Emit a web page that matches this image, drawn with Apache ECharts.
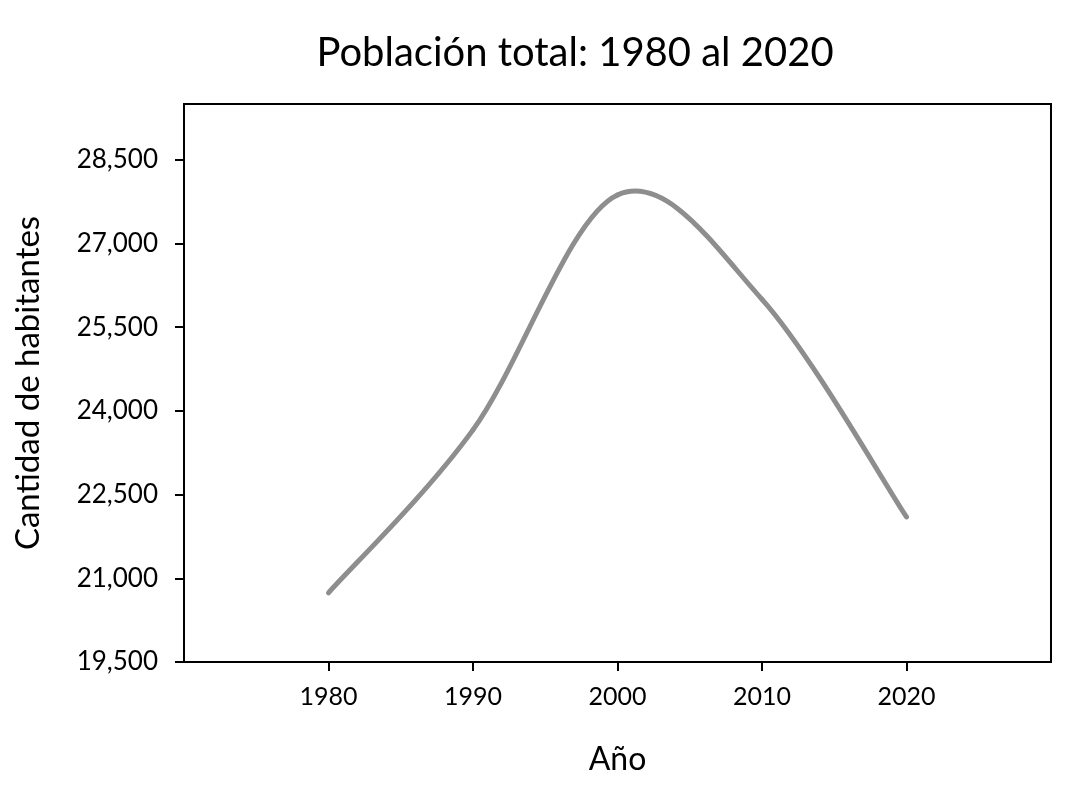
<!DOCTYPE html>
<html>
<head>
<meta charset="utf-8">
<script src="https://cdn.jsdelivr.net/npm/echarts@6/dist/echarts.min.js"></script>
<style>html,body{margin:0;padding:0;background:#fff;}#c{width:1089px;height:791px;}</style>
</head>
<body>
<div id="c"></div>
<script>
const years = [1980, 1990, 2000, 2010, 2020];
const population = [20740, 23660, 27870, 26000, 22100];
const xTicks = [1980, 1990, 2000, 2010, 2020];
const yTicks = [19500, 21000, 22500, 24000, 25500, 27000, 28500];
const titleText = 'Población total: 1980 al 2020';
const xName = 'Año';
const yName = 'Cantidad de habitantes';

const font = 'Lato, "Open Sans", sans-serif';
const lineColor = '#8e8e8e';

// Smooth curve (Catmull-Rom style, like spreadsheet smoothing) through the data points,
// positioned through the chart's own axes via api.coord.
function renderCurve(params, api) {
  if (params.dataIndex !== 0) return null;
  const pts = years.map((y, i) => api.coord([y, population[i]]));
  const n = pts.length;
  const children = [];
  for (let i = 0; i < n - 1; i++) {
    const p0 = pts[Math.max(i - 1, 0)];
    const p1 = pts[i];
    const p2 = pts[i + 1];
    const p3 = pts[Math.min(i + 2, n - 1)];
    children.push({
      type: 'bezierCurve',
      shape: {
        x1: p1[0], y1: p1[1],
        cpx1: p1[0] + (p2[0] - p0[0]) / 6, cpy1: p1[1] + (p2[1] - p0[1]) / 6,
        cpx2: p2[0] - (p3[0] - p1[0]) / 6, cpy2: p2[1] - (p3[1] - p1[1]) / 6,
        x2: p2[0], y2: p2[1]
      },
      style: { fill: null, stroke: lineColor, lineWidth: 5, lineCap: 'round', lineJoin: 'round' }
    });
  }
  return { type: 'group', children };
}

const chart = echarts.init(document.getElementById('c'));
chart.setOption({
  animation: false,
  backgroundColor: '#fff',
  title: {
    text: titleText, left: 570, top: 28, textAlign: 'center',
    textStyle: { fontFamily: font, fontSize: 40, fontWeight: 'normal', color: '#000' }
  },
  grid: { left: 184, right: 38, top: 104, bottom: 129, show: true, borderColor: '#000', borderWidth: 2 },
  xAxis: {
    type: 'value', min: 1970, max: 2030, interval: 10,
    name: xName, nameLocation: 'middle', nameGap: 82,
    nameTextStyle: { fontFamily: font, fontSize: 32, color: '#000' },
    axisLine: { show: true, lineStyle: { color: '#000', width: 2 } },
    axisTick: { show: true, length: 9, lineStyle: { color: '#000', width: 2 }, customValues: xTicks },
    axisLabel: { fontFamily: font, fontSize: 25, color: '#000', margin: 22, customValues: xTicks, formatter: v => String(v) },
    splitLine: { show: false }
  },
  yAxis: {
    type: 'value', min: 19500, max: 29500, interval: 1500,
    name: yName, nameLocation: 'middle', nameGap: 139, nameRotate: 90,
    nameTextStyle: { fontFamily: font, fontSize: 33, color: '#000' },
    axisLine: { show: true, lineStyle: { color: '#000', width: 2 } },
    axisTick: { show: true, length: 9, lineStyle: { color: '#000', width: 2 }, customValues: yTicks },
    axisLabel: { fontFamily: font, fontSize: 26, color: '#000', margin: 26, customValues: yTicks,
      formatter: v => v.toLocaleString('en-US') },
    splitLine: { show: false }
  },
  series: [{
    type: 'custom',
    coordinateSystem: 'cartesian2d',
    renderItem: renderCurve,
    encode: { x: 0, y: 1 },
    data: years.map((y, i) => [y, population[i]]),
    clip: false
  }]
});
</script>
</body>
</html>
